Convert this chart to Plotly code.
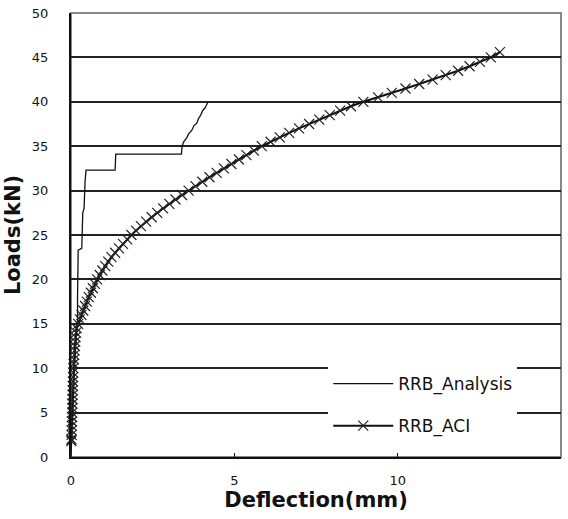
import plotly.graph_objects as go

# RRB_ACI curve: loads (kN) and deflections (mm)
aci_load = [1.8, 2.0, 2.5, 3.0, 3.5, 4.0, 4.5, 5.0, 5.5, 6.0, 6.5, 7.0, 7.5, 8.0, 8.5, 9.0, 9.5,
            10.0, 10.5, 11.0, 11.5, 12.0, 12.5, 13.0, 13.5, 14.0, 14.5, 15.0, 15.5, 16.0, 16.5,
            17.0, 17.5, 18.0, 18.5, 19.0, 19.5, 20.0, 20.5, 21.0, 21.5, 22.0, 22.5, 23.0, 23.5,
            24.0, 24.5, 25.0, 25.5, 26.0, 26.5, 27.0, 27.5, 28.0, 28.5, 29.0, 29.5, 30.0, 30.5,
            31.0, 31.5, 32.0, 32.5, 33.0, 33.5, 34.0, 34.5, 35.0, 35.5, 36.0, 36.5, 37.0, 37.5,
            38.0, 38.5, 39.0, 39.5, 40.0, 40.5, 41.0, 41.5, 42.0, 42.5, 43.0, 43.5, 44.0, 44.5,
            45.0, 45.6]
aci_defl = [0.01, 0.014, 0.018, 0.021, 0.025, 0.028, 0.032, 0.035, 0.039, 0.042, 0.046, 0.049, 0.053,
            0.056, 0.06, 0.063, 0.067, 0.07, 0.08, 0.09, 0.10, 0.11, 0.12, 0.13, 0.14, 0.155, 0.17,
            0.22, 0.27, 0.32, 0.375, 0.43, 0.485, 0.545, 0.61, 0.67, 0.73, 0.80, 0.88, 0.96, 1.05,
            1.14, 1.24, 1.35, 1.47, 1.59, 1.72, 1.85, 1.99, 2.14, 2.30, 2.47, 2.64, 2.82, 3.01,
            3.20, 3.40, 3.60, 3.81, 4.02, 4.24, 4.46, 4.68, 4.91, 5.14, 5.37, 5.60, 5.84, 6.11,
            6.39, 6.68, 6.98, 7.29, 7.60, 7.92, 8.24, 8.57, 8.95, 9.40, 9.82, 10.24, 10.66, 11.07,
            11.47, 11.85, 12.20, 12.52, 12.85, 13.13]

# RRB_Analysis curve
ana_defl = [0.0, 0.03, 0.06, 0.10, 0.15, 0.20, 0.20, 0.21, 0.22, 0.33, 0.35, 0.36, 0.40, 0.41,
            0.43, 0.46, 1.35, 1.37, 3.38, 3.40, 3.45, 3.55, 3.60, 3.70, 3.76, 3.85, 3.90, 3.97,
            4.03, 4.10, 4.15, 4.20]
ana_load = [0.0, 3.0, 7.0, 10.0, 13.0, 15.0, 18.0, 21.0, 23.3, 23.5, 26.0, 27.5, 28.0, 30.0,
            31.0, 32.3, 32.3, 34.1, 34.1, 35.0, 35.5, 36.0, 36.4, 36.8, 37.3, 37.6, 38.1, 38.5,
            39.0, 39.3, 39.6, 40.0]

x_ticks = [0, 5, 10, 15]
y_ticks = [0, 5, 10, 15, 20, 25, 30, 35, 40, 45, 50]

fig = go.Figure()
fig.add_trace(go.Scatter(
    x=ana_defl, y=ana_load, mode="lines", name="RRB_Analysis",
    line=dict(color="#111111", width=1.3), legendgroup="a"))
fig.add_trace(go.Scatter(
    x=aci_defl, y=aci_load, mode="lines+markers", name="RRB_ACI",
    line=dict(color="#111111", width=2),
    marker=dict(symbol="x-thin", size=10, line=dict(color="#222222", width=1.2)),
    cliponaxis=False, legendgroup="b"))

fig.update_layout(
    width=568, height=519,
    margin=dict(l=71, r=7, t=13, b=62),
    paper_bgcolor="white", plot_bgcolor="white",
    font=dict(family="DejaVu Sans", color="#111111", size=13),
    showlegend=True,
    legend=dict(x=0.525, y=0.205, xanchor="left", yanchor="top",
                bgcolor="white", borderwidth=0, itemwidth=60,
                font=dict(family="DejaVu Sans", size=17, color="#111111"),
                tracegroupgap=17),
    shapes=[dict(type="rect", xref="paper", yref="paper", x0=0, x1=1, y0=0, y1=1,
                 line=dict(color="#888888", width=2), layer="below")],
)
fig.update_xaxes(
    range=[0, 15], tickvals=x_ticks, ticktext=[str(v) for v in x_ticks],
    showgrid=False, zeroline=False, showline=True, linecolor="#111111", linewidth=2,
    ticks="inside", ticklen=4, tickcolor="#111111", tickwidth=1,
    ticklabelstandoff=10,
    title=dict(text="<b>Deflection(mm)</b>", font=dict(size=21, family="DejaVu Sans"), standoff=2))
fig.update_yaxes(
    range=[0, 50], tickvals=y_ticks, ticktext=[str(v) for v in y_ticks],
    showgrid=True, gridcolor="#222222", gridwidth=2,
    zeroline=False, showline=True, linecolor="#111111", linewidth=2,
    ticks="", ticklabelstandoff=18,
    title=dict(text="<b>Loads(kN)</b>", font=dict(size=21, family="DejaVu Sans"), standoff=6))

fig.write_html("out.html")
